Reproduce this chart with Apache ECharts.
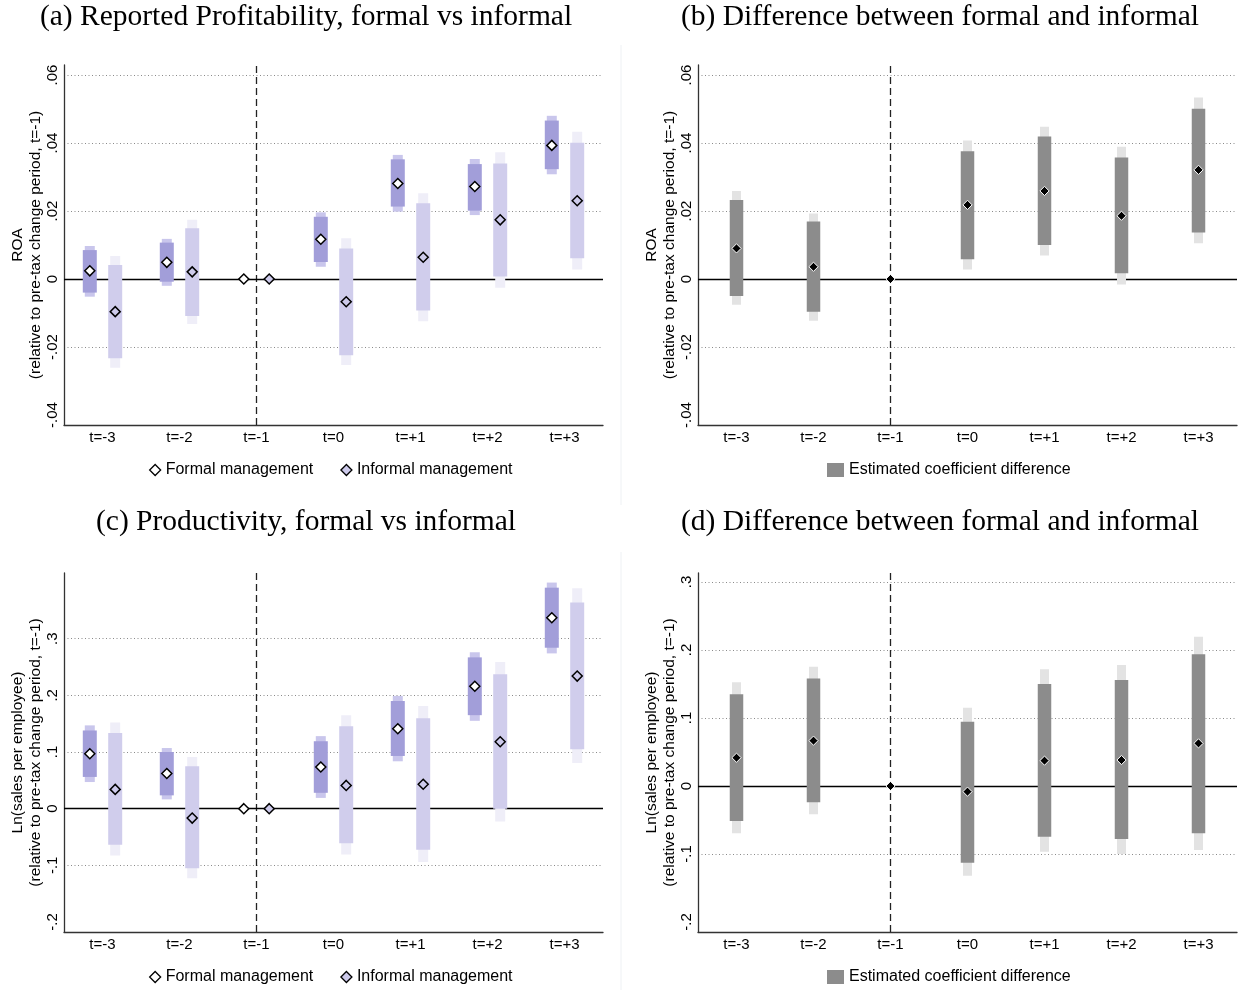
<!DOCTYPE html>
<html><head><meta charset="utf-8">
<script src="https://cdn.jsdelivr.net/npm/echarts@6/dist/echarts.min.js"></script>
<style>html,body{margin:0;padding:0;background:#fff}#c{width:1241px;height:990px}</style>
</head><body><div id="c"></div>
<script>
// ---------- DATA ----------
const categories = ['t=-3', 't=-2', 't=-1', 't=0', 't=+1', 't=+2', 't=+3'];

// (a) ROA, formal management: point estimate, inner CI [lo,hi], outer CI [lo,hi]
const roaFormalCoef = [0.0024, 0.0049, 0, 0.0117, 0.0281, 0.0272, 0.0393];
const roaFormalCI90 = [[-0.0040, 0.0085], [-0.0008, 0.0107], null, [0.0050, 0.0183], [0.0213, 0.0352], [0.0201, 0.0338], [0.0323, 0.0466]];
const roaFormalCI95 = [[-0.0052, 0.0097], [-0.0020, 0.0118], null, [0.0036, 0.0196], [0.0198, 0.0365], [0.0188, 0.0353], [0.0308, 0.0480]];

// (a) ROA, informal management
const roaInformalCoef = [-0.0096, 0.0021, 0, -0.0067, 0.0064, 0.0174, 0.0230];
const roaInformalCI90 = [[-0.0233, 0.0041], [-0.0109, 0.0149], null, [-0.0224, 0.0090], [-0.0093, 0.0223], [0.0007, 0.0340], [0.0061, 0.0401]];
const roaInformalCI95 = [[-0.0261, 0.0068], [-0.0132, 0.0174], null, [-0.0253, 0.0120], [-0.0124, 0.0252], [-0.0026, 0.0373], [0.0028, 0.0433]];

// (b) ROA, difference formal - informal
const roaDiffCoef = [0.0090, 0.0036, 0, 0.0218, 0.0259, 0.0186, 0.0321];
const roaDiffCI90 = [[-0.0050, 0.0232], [-0.0096, 0.0169], null, [0.0058, 0.0376], [0.0100, 0.0419], [0.0017, 0.0357], [0.0137, 0.0501]];
const roaDiffCI95 = [[-0.0076, 0.0259], [-0.0123, 0.0193], null, [0.0028, 0.0407], [0.0069, 0.0448], [-0.0016, 0.0389], [0.0105, 0.0534]];

// (c) Productivity, formal management
const prodFormalCoef = [0.097, 0.062, 0, 0.0735, 0.141, 0.216, 0.337];
const prodFormalCI90 = [[0.056, 0.138], [0.0235, 0.100], null, [0.028, 0.119], [0.093, 0.190], [0.165, 0.267], [0.284, 0.390]];
const prodFormalCI95 = [[0.047, 0.147], [0.0164, 0.107], null, [0.019, 0.128], [0.0836, 0.199], [0.155, 0.276], [0.274, 0.399]];

// (c) Productivity, informal management
const prodInformalCoef = [0.034, -0.0166, 0, 0.041, 0.043, 0.118, 0.234];
const prodInformalCI90 = [[-0.0636, 0.1336], [-0.105, 0.0748], null, [-0.061, 0.1455], [-0.0725, 0.1595], [0.000, 0.237], [0.105, 0.364]];
const prodInformalCI95 = [[-0.0825, 0.152], [-0.1226, 0.091], null, [-0.081, 0.165], [-0.094, 0.181], [-0.0225, 0.259], [0.0806, 0.389]];

// (d) Productivity, difference formal - informal
const prodDiffCoef = [0.0416, 0.0667, 0, -0.0083, 0.0373, 0.0382, 0.0627];
const prodDiffCI90 = [[-0.0515, 0.135], [-0.024, 0.158], null, [-0.1127, 0.0946], [-0.0745, 0.150], [-0.078, 0.156], [-0.0696, 0.1936]];
const prodDiffCI95 = [[-0.0696, 0.1525], [-0.0417, 0.1755], null, [-0.132, 0.115], [-0.0966, 0.1716], [-0.100, 0.178], [-0.094, 0.2196]];

const titles = [
  '(a) Reported Profitability, formal vs informal',
  '(b) Difference between formal and informal',
  '(c) Productivity, formal vs informal',
  '(d) Difference between formal and informal'
];
const yTitles = [
  'ROA\n(relative to pre-tax change period, t=-1)',
  'ROA\n(relative to pre-tax change period, t=-1)',
  'Ln(sales per employee)\n(relative to pre-tax change period, t=-1)',
  'Ln(sales per employee)\n(relative to pre-tax change period, t=-1)'
];
const legendNames = ['Formal management', 'Informal management', 'Estimated coefficient difference'];

// ---------- STYLES / LAYOUT ----------
const SANS = 'Liberation Sans';
const SERIF = 'Liberation Serif';
const styleFormal = { off: -0.165, wIn: 14, wOut: 10, cIn: '#a29ed9', cOut: '#c9c6ec', mSize: 5, mFill: '#ffffff', mStroke: '#000000', mLine: 1.5 };
const styleInformal = { off: 0.165, wIn: 14, wOut: 10, cIn: '#d0cdec', cOut: '#efeef8', mSize: 5, mFill: '#cdcaeb', mStroke: '#000000', mLine: 1.5 };
const styleDiff = { off: 0, wIn: 13.5, wOut: 9, cIn: '#8c8c8c', cOut: '#e3e3e3', mSize: 4.6, mFill: '#000000', mStroke: '#ffffff', mLine: 1 };

const panels = [
  { left: 64, right: 638, oTop: 65, oBottom: 565, iTop: 75, iBottom: 575, min: -0.04, max: 0.06, interval: 0.02, dec: 2, showMax: true,
    series: [[legendNames[0], roaFormalCoef, roaFormalCI90, roaFormalCI95, styleFormal], [legendNames[1], roaInformalCoef, roaInformalCI90, roaInformalCI95, styleInformal]],
    legendLeft: 149, legendTop: 462, titleX: 306, titleY: 17 },
  { left: 698, right: 4, oTop: 65, oBottom: 565, iTop: 75, iBottom: 575, min: -0.04, max: 0.06, interval: 0.02, dec: 2, showMax: true,
    series: [[legendNames[2], roaDiffCoef, roaDiffCI90, roaDiffCI95, styleDiff]],
    legendLeft: 827, legendTop: 462, titleX: 940, titleY: 17 },
  { left: 64, right: 638, oTop: 573, oBottom: 58, iTop: 582, iBottom: 68, min: -0.2, max: 0.4, interval: 0.1, dec: 1, showMax: false,
    series: [[legendNames[0], prodFormalCoef, prodFormalCI90, prodFormalCI95, styleFormal], [legendNames[1], prodInformalCoef, prodInformalCI90, prodInformalCI95, styleInformal]],
    legendLeft: 149, legendTop: 969, titleX: 306, titleY: 522 },
  { left: 698, right: 4, oTop: 573, oBottom: 58, iTop: 582, iBottom: 68, min: -0.2, max: 0.3, interval: 0.1, dec: 1, showMax: true,
    series: [[legendNames[2], prodDiffCoef, prodDiffCI90, prodDiffCI95, styleDiff]],
    legendLeft: 827, legendTop: 969, titleX: 940, titleY: 522 }
];

function fmt(v, d) {
  if (Math.abs(v) < 1e-9) return '0';
  return v.toFixed(d).replace(/^(-?)0\./, '$1.');
}
function isNum(v) { return v != null && !isNaN(v); }

function makeRender(st) {
  return function (params, api) {
    const i = api.value(0);
    const bw = api.size([1, 0])[0];
    const c = api.coord([i, api.value(1)]);
    const cx = c[0] + st.off * bw;
    const ch = [];
    const iLo = api.value(2), iHi = api.value(3), oLo = api.value(4), oHi = api.value(5);
    if (isNum(oLo) && isNum(oHi)) {
      const a = api.coord([i, oHi])[1], b = api.coord([i, oLo])[1];
      ch.push({ type: 'rect', shape: { x: cx - st.wOut / 2, y: a, width: st.wOut, height: b - a }, style: { fill: st.cOut } });
    }
    if (isNum(iLo) && isNum(iHi)) {
      const a = api.coord([i, iHi])[1], b = api.coord([i, iLo])[1];
      ch.push({ type: 'rect', shape: { x: cx - st.wIn / 2, y: a, width: st.wIn, height: b - a }, style: { fill: st.cIn } });
    }
    const h = st.mSize;
    ch.push({ type: 'polygon', shape: { points: [[cx, c[1] - h], [cx + h, c[1]], [cx, c[1] + h], [cx - h, c[1]]] },
      style: { fill: st.mFill, stroke: st.mStroke, lineWidth: st.mLine } });
    return { type: 'group', children: ch };
  };
}

const grid = [], xAxis = [], yAxis = [], series = [], legend = [], graphic = [];

panels.forEach((p, k) => {
  const o = 2 * k, n = 2 * k + 1;
  grid.push({ left: p.left, right: p.right, top: p.oTop, bottom: p.oBottom, containLabel: false });
  grid.push({ left: p.left, right: p.right, top: p.iTop, bottom: p.iBottom, containLabel: false });
  // outer axes: axis lines + category labels + y-title
  xAxis.push({ type: 'category', gridIndex: o, data: categories, boundaryGap: true,
    axisLine: { show: true, onZero: false, lineStyle: { color: '#333', width: 1.3 } },
    axisTick: { show: false },
    axisLabel: { color: '#000', fontFamily: SANS, fontSize: 15, margin: 5, interval: 0 },
    splitLine: { show: false } });
  yAxis.push({ type: 'value', gridIndex: o, min: 0, max: 1,
    axisLine: { show: true, onZero: false, lineStyle: { color: '#333', width: 1.3 } },
    axisTick: { show: false }, axisLabel: { show: false }, splitLine: { show: false },
    name: yTitles[k], nameLocation: 'middle', nameGap: 19, nameRotate: 90,
    nameTextStyle: { color: '#000', fontFamily: SANS, fontSize: 15.5, lineHeight: 18, align: 'center' } });
  // inner axes: data scale, tick labels, dotted grid
  xAxis.push({ type: 'category', gridIndex: n, data: categories, boundaryGap: true, show: false });
  yAxis.push({ type: 'value', gridIndex: n, min: p.min, max: p.max, interval: p.interval,
    axisLine: { show: false }, axisTick: { show: false },
    axisLabel: { color: '#000', fontFamily: SANS, fontSize: 15, rotate: 90, margin: 4, showMaxLabel: p.showMax,
      formatter: v => fmt(v, p.dec) },
    splitLine: { show: true, showMinLine: false, showMaxLine: p.showMax, lineStyle: { color: '#8a8a8a', width: 1, type: [1, 2.5] } } });

  // reference lines
  series.push({ type: 'line', xAxisIndex: o, yAxisIndex: o, data: [], silent: true, z: 1,
    markLine: { silent: true, symbol: ['none', 'none'], z: 3, label: { show: false },
      lineStyle: { color: '#222', width: 1.3, type: [7, 4] }, emphasis: { disabled: true },
      data: [{ xAxis: categories[2] }] } });
  series.push({ type: 'line', xAxisIndex: n, yAxisIndex: n, data: [], silent: true, z: 1,
    markLine: { silent: true, symbol: ['none', 'none'], z: 3, label: { show: false },
      lineStyle: { color: '#000', width: 1.3, type: 'solid' }, emphasis: { disabled: true },
      data: [{ yAxis: 0 }] } });

  p.series.forEach(([name, coef, ci90, ci95, st]) => {
    const data = coef.map((v, i) => [i, v,
      ci90[i] ? ci90[i][0] : null, ci90[i] ? ci90[i][1] : null,
      ci95[i] ? ci95[i][0] : null, ci95[i] ? ci95[i][1] : null]);
    series.push({ type: 'custom', name, xAxisIndex: n, yAxisIndex: n, z: 6, silent: true,
      renderItem: makeRender(st), encode: { x: 0, y: 1 }, data,
      itemStyle: { color: st === styleDiff ? st.cIn : st.mFill, borderColor: st.mStroke } });
  });

  const isDiff = p.series.length === 1;
  legend.push({
    left: p.legendLeft, top: p.legendTop, orient: 'horizontal', itemGap: 27, selectedMode: false, padding: 0,
    itemWidth: isDiff ? 17 : 11, itemHeight: isDiff ? 14 : 11,
    textStyle: { color: '#000', fontFamily: SANS, fontSize: 16 },
    data: isDiff
      ? [{ name: legendNames[2], icon: 'rect', itemStyle: { color: '#8c8c8c', borderWidth: 0 } }]
      : [{ name: legendNames[0], icon: 'diamond', itemStyle: { color: '#ffffff', borderColor: '#000', borderWidth: 1.3 } },
         { name: legendNames[1], icon: 'diamond', itemStyle: { color: '#cdcaeb', borderColor: '#000', borderWidth: 1.3 } }]
  });

  graphic.push({ type: 'text', x: p.titleX, y: p.titleY, silent: true,
    style: { text: titles[k], fontFamily: SERIF, fontSize: 29.5, fill: '#000', align: 'center', verticalAlign: 'middle' } });
});

graphic.push({ type: 'line', silent: true, shape: { x1: 621, y1: 45, x2: 621, y2: 505 }, style: { stroke: '#eef1f4', lineWidth: 1 } });
graphic.push({ type: 'line', silent: true, shape: { x1: 621, y1: 552, x2: 621, y2: 990 }, style: { stroke: '#eef1f4', lineWidth: 1 } });

const chart = echarts.init(document.getElementById('c'), null, { renderer: 'canvas' });
chart.setOption({
  animation: false,
  backgroundColor: '#ffffff',
  grid, xAxis, yAxis, series, legend, graphic
});
</script>
</body></html>
